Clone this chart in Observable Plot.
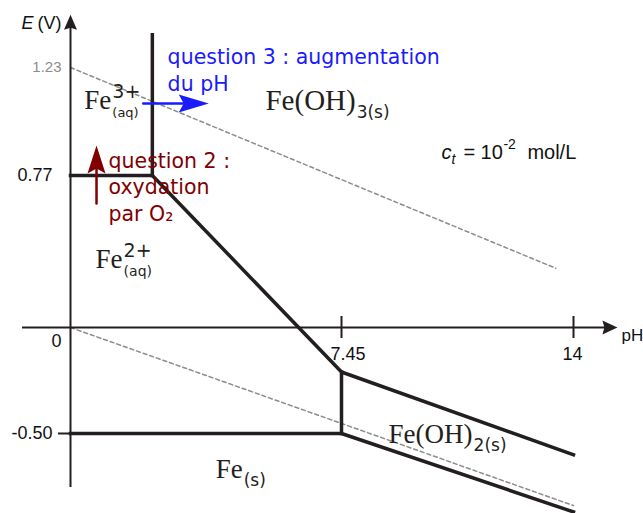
<!DOCTYPE html>
<html>
<head>
<meta charset="utf-8">
<script src="https://cdn.jsdelivr.net/npm/d3@7"></script>
<script src="https://cdn.jsdelivr.net/npm/@observablehq/plot@0.6"></script>
<style>
  html, body { margin: 0; padding: 0; background: white; }
</style>
</head>
<body>
<div id="chart"></div>
<script>
// ---- data (pH, E in volts) ----
const xTicks = [7.45, 14];
const xTickLabels = ["7.45", "14"];
const yTicks = [1.23, 0.77, 0, -0.5];
const yTickLabels = ["1.23", "0.77", "0", "-0.50"];

// boundary lines of the Pourbaix diagram (Fe, c_t = 1e-2 mol/L)
const upperBoundary = [[0, 0.77], [2.25, 0.77], [7.45, -0.21], [14, -0.60]];
const fe3PrecipBoundary = [[2.25, 1.37], [2.25, 0.77]];
const lowerBoundary = [[0, -0.50], [7.45, -0.50], [14, -0.87]];
const fe2PrecipBoundary = [[7.45, -0.21], [7.45, -0.50]];

// water stability lines
const o2Line = [[0, 1.23], [13.5, 0.30]];
const h2Line = [[0, 0], [14, -0.84]];

// axes extent
const xAxisExtent = [-1.32, 15.24];
const yAxisExtent = [-0.755, 1.455];

// species labels
const speciesMain = ["Fe", "Fe(OH)", "Fe", "Fe(OH)", "Fe"];
const speciesSup = ["3+", "", "2+", "", ""];
const speciesSub = ["(aq)", "3(s)", "(aq)", "2(s)", "(s)"];
const speciesPH = [0.38, 5.36, 0.69, 8.78, 3.99];
const speciesE = [1.055, 1.047, 0.30, -0.547, -0.708];

// annotations
const q3Text = "question 3 : augmentation\ndu pH";
const q3Pos = [2.67, 1.132];
const q3Arrow = [[2.0, 1.077], [3.8, 1.077]];
const q2Text = "question 2 :\noxydation\npar O₂";
const q2Pos = [1.045, 0.542];
const q2Arrow = [[0.715, 0.628], [0.715, 0.898]];
const ctPos = [10.27, 0.842];

// ---- styles ----
const ink = "#231f20";
const blue = "#1a1aff";
const red = "#800000";
const serif = "Liberation Serif";
const sans = "Liberation Sans";
const dvs = "DejaVu Sans";
const speciesSize = [27, 29, 27, 27, 27];
const supSize = [19, 0, 19, 0, 0];
const subSize = [13, 17, 14, 17, 17];

const ctx = document.createElement("canvas").getContext("2d");
function textWidth(t, size, family) { ctx.font = `${size}px "${family}"`; return ctx.measureText(t).width; }

function arrowHead(len, half, notch) {
  return {
    draw(c) {
      c.moveTo(0, 0);
      c.lineTo(half, len);
      c.lineTo(0, len - notch);
      c.lineTo(-half, len);
      c.closePath();
    }
  };
}

const toPts = (arr, id) => arr.map(([pH, E]) => ({pH, E, id}));
const boundaryPts = [
  ...toPts(upperBoundary, "a"), ...toPts(fe3PrecipBoundary, "b"),
  ...toPts(lowerBoundary, "c"), ...toPts(fe2PrecipBoundary, "d")
];
const waterPts = [...toPts(o2Line, "o2"), ...toPts(h2Line, "h2")];

const species = speciesMain.map((m, i) => ({
  main: m, sup: speciesSup[i], sub: speciesSub[i], pH: speciesPH[i], E: speciesE[i], i
}));

const marks = [];
// water lines
marks.push(Plot.line(waterPts, {x: "pH", y: "E", z: "id", stroke: "#8c8c8c", strokeWidth: 1.5, strokeDasharray: "4,3"}));
// axes
marks.push(Plot.ruleY([0], {x1: xAxisExtent[0], x2: xAxisExtent[1], insetRight: 8, stroke: ink, strokeWidth: 2}));
marks.push(Plot.ruleX([0], {y1: yAxisExtent[1], y2: yAxisExtent[0], insetTop: 8, stroke: ink, strokeWidth: 2}));
marks.push(Plot.dot([{pH: xAxisExtent[1], E: 0}], {x: "pH", y: "E", symbol: arrowHead(15, 7, 2), rotate: 90, fill: ink, stroke: "none"}));
marks.push(Plot.dot([{pH: 0, E: yAxisExtent[1]}], {x: "pH", y: "E", symbol: arrowHead(15, 6.5, 2), rotate: 0, fill: ink, stroke: "none"}));
// ticks
marks.push(Plot.ruleX(xTicks, {x: d => d, y1: 0, y2: 0, insetTop: -11, insetBottom: -11, stroke: ink, strokeWidth: 2}));
marks.push(Plot.ruleY([-0.5], {y: d => d, x1: 0, x2: 0, insetLeft: -12, stroke: ink, strokeWidth: 2}));
// boundaries
marks.push(Plot.line(boundaryPts, {x: "pH", y: "E", z: "id", stroke: ink, strokeWidth: 3.5, strokeLinejoin: "miter", strokeLinecap: "square"}));
// tick labels
marks.push(Plot.text(xTicks, {x: d => d, y: 0, text: (d, i) => xTickLabels[i], textAnchor: "start", dx: -11, dy: 32, lineAnchor: "bottom", fontFamily: sans, fontSize: 18, fill: "#111"}));
const yLab = yTicks.map((v, i) => ({v, t: yTickLabels[i]}));
marks.push(Plot.text(yLab.filter(d => d.v === 1.23), {x: 0, y: "v", text: "t", textAnchor: "end", dx: -9, lineAnchor: "middle", fontFamily: sans, fontSize: 15, fill: "#8c8c8c"}));
marks.push(Plot.text(yLab.filter(d => d.v === 0.77 || d.v === -0.5), {x: 0, y: "v", text: "t", textAnchor: "end", dx: -18, lineAnchor: "middle", fontFamily: sans, fontSize: 18, fill: "#111"}));
marks.push(Plot.text(yLab.filter(d => d.v === 0), {x: 0, y: "v", text: "t", textAnchor: "end", dx: -9, dy: 14, lineAnchor: "middle", fontFamily: sans, fontSize: 18, fill: "#111"}));
// axis titles
marks.push(Plot.text(["(V)"], {x: 0, y: yAxisExtent[1], text: d => d, textAnchor: "end", dx: -9, dy: 14, lineAnchor: "bottom", fontFamily: sans, fontSize: 18, fill: "#111"}));
marks.push(Plot.text(["E"], {x: 0, y: yAxisExtent[1], text: d => d, textAnchor: "end", dx: -37, dy: 14, lineAnchor: "bottom", fontFamily: sans, fontSize: 18, fontStyle: "italic", fill: "#111"}));
marks.push(Plot.text(["pH"], {x: xAxisExtent[1], y: 0, text: d => d, textAnchor: "start", dx: 4, dy: 13, lineAnchor: "bottom", fontFamily: sans, fontSize: 17, fill: "#111"}));

// species labels
species.forEach((s, i) => {
  const w = textWidth(s.main, speciesSize[i], serif);
  marks.push(Plot.text([s], {x: "pH", y: "E", text: "main", textAnchor: "start", lineAnchor: "bottom", fontFamily: serif, fontSize: speciesSize[i], fill: ink}));
  if (s.sup) marks.push(Plot.text([s], {x: "pH", y: "E", text: "sup", textAnchor: "start", lineAnchor: "bottom", dx: w + 1, dy: -11, fontFamily: dvs, fontSize: supSize[i], fill: ink}));
  marks.push(Plot.text([s], {x: "pH", y: "E", text: "sub", textAnchor: "start", lineAnchor: "bottom", dx: w + 1, dy: 8, fontFamily: dvs, fontSize: subSize[i], fill: ink}));
});

// question annotations
marks.push(Plot.text([q3Text], {x: q3Pos[0], y: q3Pos[1], text: d => d, textAnchor: "start", lineAnchor: "bottom", lineHeight: 1.27, fontFamily: dvs, fontSize: 20.5, fill: blue}));
marks.push(Plot.text([q2Text], {x: q2Pos[0], y: q2Pos[1], text: d => d, textAnchor: "start", lineAnchor: "bottom", lineHeight: 1.27, fontFamily: dvs, fontSize: 20.5, fill: red}));
marks.push(Plot.arrow([q3Arrow], {x1: d => d[0][0], y1: d => d[0][1], x2: d => d[1][0], y2: d => d[1][1], headLength: 0, insetEnd: 12, stroke: blue, strokeWidth: 2.5}));
marks.push(Plot.dot([q3Arrow[1]], {x: d => d[0], y: d => d[1], symbol: arrowHead(30, 9, 5), rotate: 90, fill: blue, stroke: "none"}));
marks.push(Plot.arrow([q2Arrow], {x1: d => d[0][0], y1: d => d[0][1], x2: d => d[1][0], y2: d => d[1][1], headLength: 0, insetEnd: 12, stroke: red, strokeWidth: 2.5}));
marks.push(Plot.dot([q2Arrow[1]], {x: d => d[0], y: d => d[1], symbol: arrowHead(28, 9, 5), rotate: 0, fill: red, stroke: "none"}));

// c_t = 10^-2 mol/L
const ctParts = [
  {t: "c", dx: 0, dy: 0, size: 20, style: "italic"},
  {t: "t", dx: 10, dy: 5, size: 14, style: "italic"},
  {t: "= 10", dx: 22, dy: 0, size: 20, style: "normal"},
  {t: "-2", dx: 62, dy: -10, size: 14, style: "normal"},
  {t: "mol/L", dx: 86, dy: 0, size: 20, style: "normal"}
];
ctParts.forEach(p => {
  marks.push(Plot.text([p.t], {x: ctPos[0], y: ctPos[1], text: d => d, textAnchor: "start", lineAnchor: "bottom", dx: p.dx, dy: p.dy, fontFamily: sans, fontSize: p.size, fontStyle: p.style, fill: "#111"}));
});

const chart = Plot.plot({
  width: 643,
  height: 513,
  margin: 0,
  style: {background: "white", fontFamily: sans},
  x: {type: "linear", domain: [0, 7.45, 14], range: [70, 341, 573], axis: null},
  y: {type: "linear", domain: [-0.5, 0, 0.77, 1.23], range: [433, 327, 175, 67], axis: null},
  marks
});
document.getElementById("chart").appendChild(chart);
</script>
</body>
</html>
